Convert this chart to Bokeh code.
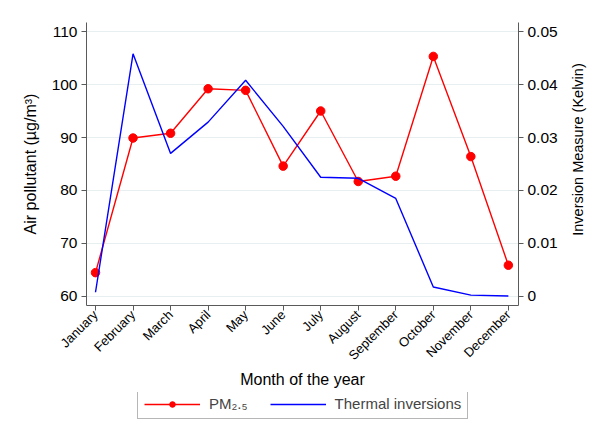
import math
from bokeh.plotting import figure
from bokeh.layouts import column
from bokeh.models import (Range1d, LinearAxis, FixedTicker, CustomJSTickFormatter,
                          Legend, LegendItem, ColumnDataSource, Label)
from bokeh.embed import file_html
from bokeh.resources import INLINE

months = ["January", "February", "March", "April", "May", "June", "July",
          "August", "September", "October", "November", "December"]
month_num = list(range(1, 13))
pm25 = [64.5, 89.9, 90.8, 99.2, 98.9, 84.6, 95.0, 81.7, 82.7, 105.3, 86.4, 65.9]
inversions = [0.0008, 0.0458, 0.0270, 0.0329, 0.0408, 0.0321, 0.0225, 0.0223,
              0.0185, 0.0018, 0.00025, 0.0001]
left_ticks = [60, 70, 80, 90, 100, 110]
right_ticks = [0, 0.01, 0.02, 0.03, 0.04, 0.05]

FONT = "Liberation Sans"

src = ColumnDataSource(dict(x=month_num, pm=pm25, inv=inversions))

p = figure(width=597, height=392, output_backend="svg", toolbar_location=None,
           x_range=Range1d(0.76, 12.27), y_range=Range1d(58.3, 111.7),
           min_border_left=86, min_border_right=79, min_border_top=22,
           min_border_bottom=87)
p.outline_line_color = None
p.background_fill_color = "white"
p.border_fill_color = "white"
p.extra_y_ranges = {"inv": Range1d(-0.0017, 0.0517)}

ya = p.yaxis[0]
ya.ticker = FixedTicker(ticks=left_ticks)
ya.axis_label = "Air pollutant (µg/m³)"
xa = p.xaxis[0]
xa.ticker = FixedTicker(ticks=month_num)
xa.major_label_overrides = {m: n for m, n in zip(month_num, months)}
xa.major_label_orientation = math.pi / 4
xa.axis_label = "Month of the year"

ra = LinearAxis(y_range_name="inv", ticker=FixedTicker(ticks=right_ticks),
                formatter=CustomJSTickFormatter(code="return tick == 0 ? '0' : tick.toFixed(2);"))
p.add_layout(ra, "right")

for ax in (ya, xa, ra):
    ax.axis_line_color = "#5a5a5a"
    ax.major_tick_line_color = "#5a5a5a"
    ax.minor_tick_line_color = None
    ax.major_tick_out = 5
    ax.major_tick_in = 0
    ax.major_label_text_font = FONT
    ax.major_label_text_color = "black"
    ax.axis_label_text_font = FONT
    ax.axis_label_text_font_style = "normal"
    ax.axis_label_text_color = "black"
    ax.axis_label_text_font_size = "16px"
    ax.major_label_standoff = 4
for ax in (ya, ra):
    ax.major_label_text_font_size = "15.5px"
    ax.axis_label_standoff = 10
xa.major_label_text_font_size = "13px"
xa.major_label_standoff = 2
xa.axis_label_standoff = 0

# right-hand axis title, reading bottom to top, in the right side panel
p.add_layout(Label(x=17.5, y=156, x_units="screen", y_units="screen",
                   text="Inversion Measure (Kelvin)", angle=math.pi / 2,
                   text_align="center", text_baseline="middle",
                   text_font=FONT, text_font_size="14.5px", text_color="black"),
             "right")

p.xgrid.grid_line_color = None
p.ygrid.grid_line_color = "#e8eff0"
p.ygrid.grid_line_width = 1.2

l1 = p.line("x", "pm", source=src, line_color="#ff0000", line_width=1.4)
s1 = p.scatter("x", "pm", source=src, size=8.5, fill_color="#ff0000",
               line_color="#ff0000")
l2 = p.line("x", "inv", source=src, y_range_name="inv", line_color="#0000ff",
            line_width=1.4)

# legend strip below the chart (its renderers fall outside its ranges)
q = figure(width=597, height=44, output_backend="svg", toolbar_location=None,
           x_axis_type=None, y_axis_type=None,
           x_range=Range1d(100, 101), y_range=Range1d(1000, 1001),
           min_border_left=86, min_border_right=79, min_border_top=0,
           min_border_bottom=0)
q.outline_line_color = None
q.xgrid.grid_line_color = None
q.ygrid.grid_line_color = None
q.border_fill_color = "white"
q.background_fill_color = "white"
ql1 = q.line("x", "pm", source=src, line_color="#ff0000", line_width=1.4)
qs1 = q.scatter("x", "pm", source=src, size=8.5, fill_color="#ff0000",
                line_color="#ff0000")
ql2 = q.line("x", "pm", source=src, line_color="#0000ff", line_width=1.4)

legend = Legend(items=[LegendItem(label="PM₂.₅", renderers=[ql1, qs1]),
                       LegendItem(label="Thermal inversions", renderers=[ql2])],
                orientation="horizontal", location=(51, 17))
legend.label_text_font = FONT
legend.label_text_font_size = "15px"
legend.glyph_width = 56
legend.glyph_height = 14
legend.label_height = 14
legend.label_standoff = 9
legend.spacing = 22
legend.padding = 6
legend.margin = 0
legend.border_line_color = "#6e6e6e"
legend.border_line_width = 1
legend.background_fill_color = "white"
q.add_layout(legend, "center")

layout = column(p, q, spacing=0)
open("out.html", "w").write(file_html(layout, INLINE))
